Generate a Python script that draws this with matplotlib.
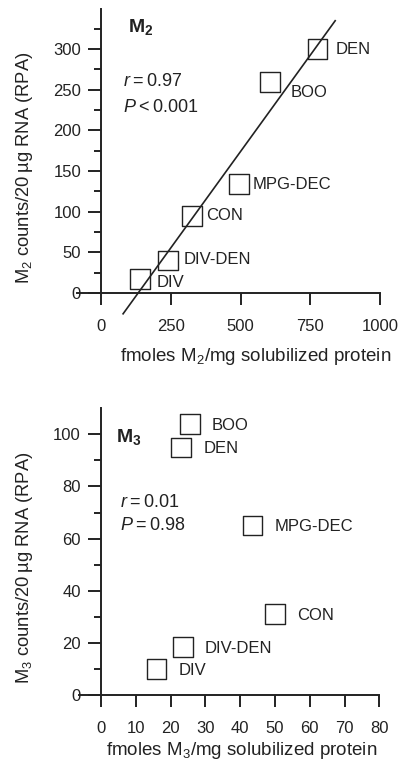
import numpy as np
import matplotlib; matplotlib.use("Agg")
import matplotlib.pyplot as plt

plt.rcParams['font.family'] = ['Liberation Sans', 'DejaVu Sans']
plt.rcParams['mathtext.fontset'] = 'custom'
plt.rcParams['mathtext.rm'] = 'Liberation Sans'
plt.rcParams['mathtext.it'] = 'Liberation Sans:italic'
plt.rcParams['mathtext.bf'] = 'Liberation Sans:bold'
plt.rcParams['mathtext.default'] = 'regular'

# data
groups_m2 = ["DEN", "BOO", "MPG-DEC", "CON", "DIV-DEN", "DIV"]
x_m2 = [775, 605, 495, 325, 240, 140]
y_m2 = [300, 260, 134, 95, 40, 17]
lab_off_m2 = [(13, 0), (15, -8), (10, 0), (10, 0), (11, 1), (12, -2)]

groups_m3 = ["BOO", "DEN", "MPG-DEC", "CON", "DIV-DEN", "DIV"]
x_m3 = [25.5, 23, 43.5, 50, 23.5, 16]
y_m3 = [104, 95, 65, 31, 18.5, 10]
lab_off_m3 = [(16, -1), (16, -1), (16, -1), (16, -1), (16, -1), (16, -1)]

INK = "#222222"
FS = 12          # tick labels
FS_LAB = 12      # point labels
FS_STAT = 13


def style_axis(ax, xlim, ylim, ybounds, xmaj, ymaj, ymin):
    ax.set_xlim(*xlim); ax.set_ylim(*ylim)
    for s in ("top", "right"):
        ax.spines[s].set_visible(False)
    ax.spines["left"].set_position(("data", 0))
    ax.spines["bottom"].set_position(("data", 0))
    ax.spines["left"].set_bounds(*ybounds)
    ax.spines["bottom"].set_bounds(xlim[0], xlim[1])
    for s in ("left", "bottom"):
        ax.spines[s].set_linewidth(1.4); ax.spines[s].set_color(INK)
    ax.set_xticks(np.arange(0, xlim[1] + 0.01, xmaj))
    ax.set_yticks([t for t in np.arange(0, ybounds[1] + 0.01, ymaj) if t < ybounds[1]])
    ax.set_yticks([t for t in np.arange(ymin, ybounds[1] + 0.01, ymin)
                   if t % ymaj != 0 and t < ybounds[1]], minor=True)
    ax.tick_params(axis="x", which="major", direction="out", length=8.6, width=1.4,
                   pad=10, labelsize=FS, colors=INK)
    ax.tick_params(axis="y", which="major", direction="out", length=9.4, width=1.4,
                   pad=5, labelsize=FS, colors=INK)
    ax.tick_params(axis="y", which="minor", direction="out", length=5, width=1.4, colors=INK)


fig = plt.figure(figsize=(4.0, 7.73), dpi=100)

# ---- M2 panel ----
ax1 = fig.add_axes([0.1933, 0.584, 0.757, 0.405])
style_axis(ax1, (-85, 1000), (-35, 350), (0, 350), 250, 50, 25)
ax1.patch.set_alpha(0)
slope, icpt = np.polyfit(x_m2, y_m2, 1)
xl = np.array([79, 839])
ax1.plot(xl, slope * xl + icpt, color=INK, lw=1.2, clip_on=False, zorder=3)
ax1.scatter(x_m2, y_m2, marker="s", s=200, facecolor="none", edgecolor=INK,
            linewidth=1.0, zorder=4, clip_on=False)
for g, x, y, (dx, dy) in zip(groups_m2, x_m2, y_m2, lab_off_m2):
    ax1.annotate(g, (x, y), xytext=(dx, dy), textcoords="offset points",
                 ha="left", va="center", fontsize=FS_LAB, color=INK)
ax1.text(96, 327, r"M$_\mathbf{2}$", fontsize=14, fontweight="bold", va="center", color=INK)
ax1.text(79, 260, "$\\mathit{r}$\u2009=\u20090.97", fontsize=FS_STAT, va="center", color=INK)
ax1.text(79, 228, "$\\mathit{P}$\u2009<\u20090.001", fontsize=FS_STAT, va="center", color=INK)
ax1.set_xlabel(r"fmoles M$_2$/mg solubilized protein", fontsize=13.5, color=INK)
ax1.xaxis.set_label_coords(0.59, -0.113)
ax1.xaxis.label.set_va("center")
ax1.set_ylabel("M$_2$ counts/20\u2009\u00b5g RNA (RPA)", fontsize=13.2, color=INK)
ax1.yaxis.set_label_coords(-0.173, 0.49)
ax1.yaxis.label.set_va("center")

# ---- M3 panel ----
ax2 = fig.add_axes([0.1975, 0.1009, 0.751, 0.371])
style_axis(ax2, (-6.3, 80), (0, 110), (0, 110), 10, 20, 10)
ax2.patch.set_alpha(0)
ax2.scatter(x_m3, y_m3, marker="s", s=200, facecolor="none", edgecolor=INK,
            linewidth=1.0, zorder=4, clip_on=False)
for g, x, y, (dx, dy) in zip(groups_m3, x_m3, y_m3, lab_off_m3):
    ax2.annotate(g, (x, y), xytext=(dx, dy), textcoords="offset points",
                 ha="left", va="center", fontsize=FS_LAB, color=INK)
ax2.text(4.3, 99, r"M$_\mathbf{3}$", fontsize=14, fontweight="bold", va="center", color=INK)
ax2.text(5.5, 74, "$\\mathit{r}$\u2009=\u20090.01", fontsize=FS_STAT, va="center", color=INK)
ax2.text(5.5, 65, "$\\mathit{P}$\u2009=\u20090.98", fontsize=FS_STAT, va="center", color=INK)
ax2.set_xlabel(r"fmoles M$_3$/mg solubilized protein", fontsize=13.5, color=INK)
ax2.xaxis.set_label_coords(0.54, -0.192)
ax2.xaxis.label.set_va("center")
ax2.set_ylabel("M$_3$ counts/20\u2009\u00b5g RNA (RPA)", fontsize=13.2, color=INK)
ax2.yaxis.set_label_coords(-0.18, 0.445)
ax2.yaxis.label.set_va("center")

fig.savefig("out.png", dpi=100)
